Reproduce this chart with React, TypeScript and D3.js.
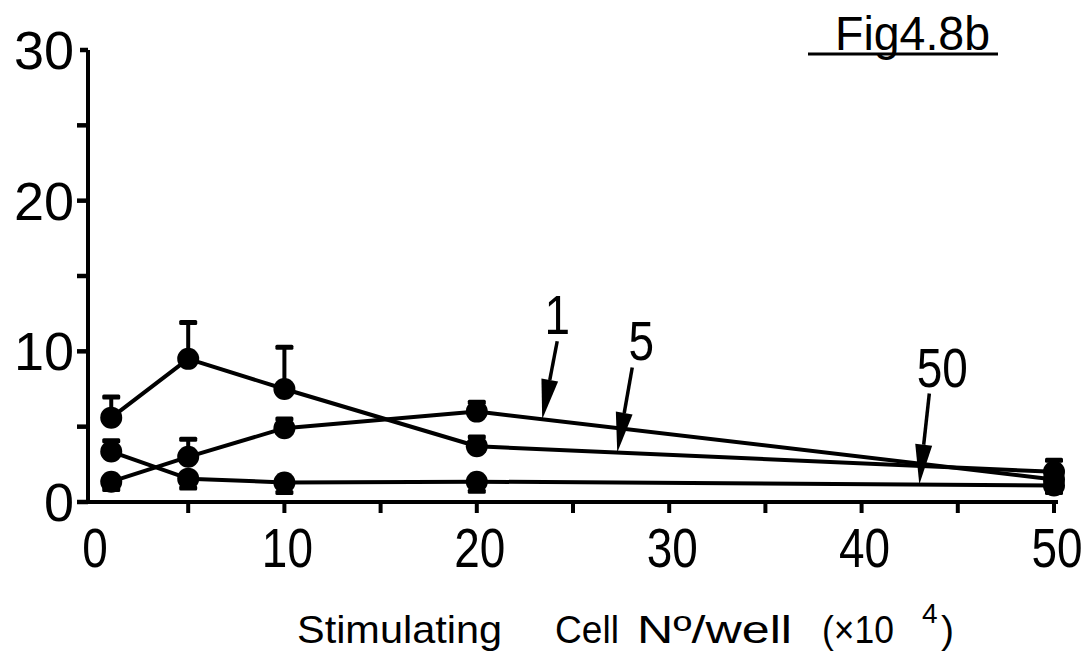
import React from "react";
import * as d3 from "d3";

const xValues = [1, 5, 10, 20, 50];
const series1 = [1.35, 3.0, 4.9, 6.0, 1.5];
const series5 = [5.6, 9.5, 7.5, 3.7, 2.0];
const series50 = [3.35, 1.55, 1.3, 1.35, 1.1];
const series1ErrUp = [0, 1.2, 0.65, 0.66, 0];
const series1ErrDown = [0.55, 0, 0, 0, 0];
const series5ErrUp = [1.4, 2.45, 2.8, 0.65, 0.8];
const series5ErrDown = [0, 0, 0, 0, 0];
const series50ErrUp = [0.75, 0, 0, 0, 0];
const series50ErrDown = [0, 0.65, 0.7, 0.67, 0.5];
const yTicks = [0, 5, 10, 15, 20, 25, 30];
const yTickLabels = [0, 10, 20, 30];
const xTicks = [5, 10, 15, 20, 25, 30, 35, 40, 45, 50];
const xTickLabels = [0, 10, 20, 30, 40, 50];
const seriesLabels = ["1", "5", "50"];
const arrowAtX = [23.4, 27.3, 43];
const titleText = "Fig4.8b";

const FONT = "'Liberation Sans', Arial, sans-serif";

export default function App() {
  const x = d3.scaleLinear().domain([0, 50]).range([92, 1054]);
  const y = d3.scaleLinear().domain([0, 30]).range([502, 50]);
  const line = d3
    .line<number>()
    .x((_, i) => x(xValues[i]))
    .y((d) => y(d));

  const all = [
    { v: series1, up: series1ErrUp, dn: series1ErrDown },
    { v: series5, up: series5ErrUp, dn: series5ErrDown },
    { v: series50, up: series50ErrUp, dn: series50ErrDown },
  ];

  const arrowOffsets = [
    [15, -78],
    [15, -85],
    [10, -91],
  ];
  const labelOffsets = [
    [0, -7],
    [9, -7],
    [13, -7],
  ];

  const valueAt = (vals: number[], xv: number) => {
    const interp = d3.scaleLinear().domain(xValues).range(vals);
    return interp(xv);
  };

  return (
    <svg
      width={1086}
      height={658}
      style={{ position: "absolute", left: 0, top: 0, background: "#fff" }}
    >
      <rect x={0} y={0} width={1086} height={658} fill="#fff" />
      {/* axes */}
      <line x1={88} y1={y(30)} x2={88} y2={y(0) + 2} stroke="#000" strokeWidth={4} />
      <line x1={86} y1={y(0)} x2={x(50) + 4} y2={y(0)} stroke="#000" strokeWidth={4} />
      {yTicks.map((t) => (
        <line key={t} x1={t === 30 ? 80 : 77} x2={88} y1={y(t)} y2={y(t)} stroke="#000" strokeWidth={4.5} />
      ))}
      {xTicks.map((t) => (
        <line key={t} x1={x(t)} x2={x(t)} y1={y(0)} y2={y(0) + 11} stroke="#000" strokeWidth={4} />
      ))}
      {yTickLabels.map((t) => (
        <text key={t} x={74} y={y(t) + 19} textAnchor="end" fontFamily={FONT} fontSize={54} fill="#000">
          {t}
        </text>
      ))}
      {xTickLabels.map((t) => (
        <g key={t} transform={`translate(${x(t) + 3},567) scale(0.82,1)`}>
          <text x={0} y={0} textAnchor="middle" fontFamily={FONT} fontSize={56} fill="#000">
            {t}
          </text>
        </g>
      ))}

      {/* series lines */}
      {all.map((s, si) => (
        <path key={si} d={line(s.v) || ""} fill="none" stroke="#000" strokeWidth={4} strokeLinejoin="round" />
      ))}
      {/* error bars + markers */}
      {all.map((s, si) =>
        s.v.map((v, i) => {
          const cx = x(xValues[i]);
          const cy = y(v);
          return (
            <g key={`${si}-${i}`}>
              {s.up[i] > 0 && (
                <g>
                  <line x1={cx} x2={cx} y1={cy} y2={y(v + s.up[i])} stroke="#000" strokeWidth={4} />
                  <rect x={cx - 9} y={y(v + s.up[i]) - 2} width={18} height={5} fill="#000" rx={1.5} />
                </g>
              )}
              {s.dn[i] > 0 && (
                <g>
                  <line x1={cx} x2={cx} y1={cy} y2={y(v - s.dn[i])} stroke="#000" strokeWidth={4} />
                  <rect x={cx - 9} y={y(v - s.dn[i]) - 3} width={18} height={5} fill="#000" rx={1.5} />
                </g>
              )}
              <circle cx={cx} cy={cy} r={11} fill="#000" />
            </g>
          );
        })
      )}

      {/* arrows + labels */}
      {seriesLabels.map((lab, k) => {
        const tx = x(arrowAtX[k]);
        const ty = y(valueAt(all[k].v, arrowAtX[k]));
        const sx = tx + arrowOffsets[k][0];
        const sy = ty + arrowOffsets[k][1];
        const ang = Math.atan2(ty - sy, tx - sx);
        const len = 40;
        const hw = 8.5;
        const bx = tx - Math.cos(ang) * len;
        const by = ty - Math.sin(ang) * len;
        const px = -Math.sin(ang) * hw;
        const py = Math.cos(ang) * hw;
        return (
          <g key={lab}>
            <line x1={sx} y1={sy} x2={bx} y2={by} stroke="#000" strokeWidth={3.5} />
            <path d={`M${tx},${ty} L${bx + px},${by + py} L${bx - px},${by - py} Z`} fill="#000" />
            <g transform={`translate(${sx + labelOffsets[k][0]},${sy + labelOffsets[k][1]}) scale(0.82,1)`}>
              <text x={0} y={0} textAnchor="middle" fontFamily={FONT} fontSize={56} fill="#000">
                {lab}
              </text>
            </g>
          </g>
        );
      })}

      {/* figure title */}
      <text x={835} y={50} fontFamily={FONT} fontSize={49} textLength={155} lengthAdjust="spacingAndGlyphs" fill="#000">
        {titleText}
      </text>
      <line x1={808} x2={998} y1={54} y2={54} stroke="#000" strokeWidth={3} />

      {/* x axis title */}
      <g fontFamily={FONT} fontSize={39} fill="#000">
        <text x={297} y={643} textLength={205} lengthAdjust="spacingAndGlyphs">Stimulating</text>
        <text x={555} y={643} textLength={64} lengthAdjust="spacingAndGlyphs">Cell</text>
        <text x={637} y={643} textLength={155} lengthAdjust="spacingAndGlyphs">Nº/well</text>
        <text x={822} y={643} textLength={72} lengthAdjust="spacingAndGlyphs">(×10</text>
        <text x={922} y={623} fontSize={28}>4</text>
        <text x={941} y={643}>)</text>
      </g>
    </svg>
  );
}
